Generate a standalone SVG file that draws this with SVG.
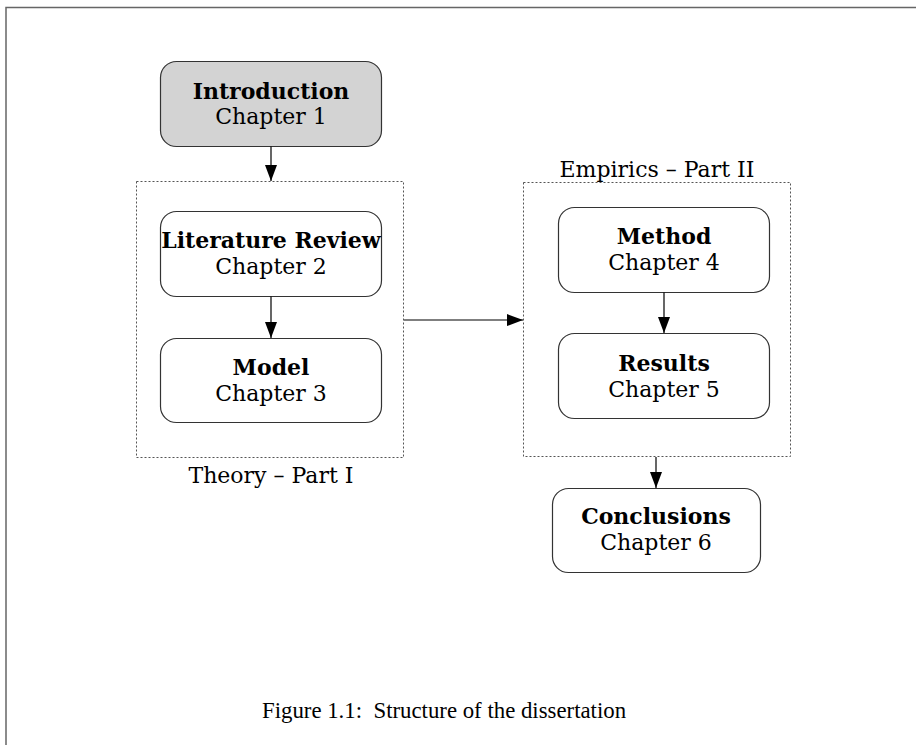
<svg xmlns="http://www.w3.org/2000/svg" width="916" height="745" viewBox="0 0 916 745">
<style>
.node{fill:#fff;stroke:#333;stroke-width:1.2}
.gray{fill:#d3d3d3}
.grp{fill:none;stroke:#555;stroke-width:1;stroke-dasharray:2,2}
.b{font-family:"DejaVu Serif",serif;font-weight:bold;font-size:22px;fill:#000;text-anchor:middle}
.r{font-family:"DejaVu Serif",serif;font-size:22px;fill:#000;text-anchor:middle}
.lbl{font-family:"DejaVu Serif",serif;font-size:22px;fill:#000;text-anchor:middle}
.edge{stroke:#000;stroke-width:1.2;fill:none;marker-end:url(#ah)}
</style>
<defs>
<marker id="ah" markerWidth="16" markerHeight="12" refX="16" refY="6" orient="auto" markerUnits="userSpaceOnUse" viewBox="0 0 16 12">
<path d="M0,0 L16,6 L0,12 Z" fill="#000"/>
</marker>
</defs>
<rect x="0" y="0" width="916" height="745" fill="#fff"/>
<path d="M6,760 V7.5 H930" fill="none" stroke="#666" stroke-width="1.5"/>
<g id="theory">
<rect class="grp" x="136.5" y="181.5" width="267" height="276"/>
<text class="lbl" x="271" y="483">Theory – Part I</text>
</g>
<g id="empirics">
<rect class="grp" x="523.5" y="182.5" width="267" height="274"/>
<text class="lbl" x="657" y="177">Empirics – Part II</text>
</g>
<g id="intro">
<rect class="node gray" x="160.5" y="61.5" width="221" height="85" rx="16"/>
<text class="b" x="271" y="99">Introduction</text>
<text class="r" x="271" y="124">Chapter 1</text>
</g>
<g id="lit">
<rect class="node" x="160.5" y="211.5" width="221" height="85" rx="16"/>
<text class="b" x="271" y="248">Literature Review</text>
<text class="r" x="271" y="274">Chapter 2</text>
</g>
<g id="model">
<rect class="node" x="160.5" y="338.5" width="221" height="84" rx="16"/>
<text class="b" x="271" y="375">Model</text>
<text class="r" x="271" y="401">Chapter 3</text>
</g>
<g id="method">
<rect class="node" x="558.5" y="207.5" width="211" height="85" rx="16"/>
<text class="b" x="664" y="244">Method</text>
<text class="r" x="664" y="270">Chapter 4</text>
</g>
<g id="results">
<rect class="node" x="558.5" y="333.5" width="211" height="85" rx="16"/>
<text class="b" x="664" y="371">Results</text>
<text class="r" x="664" y="397">Chapter 5</text>
</g>
<g id="conclusions">
<rect class="node" x="552.5" y="488.5" width="208" height="84" rx="16"/>
<text class="b" x="656" y="524">Conclusions</text>
<text class="r" x="656" y="550">Chapter 6</text>
</g>
<g id="connectors">
<line class="edge" x1="271" y1="146.5" x2="271" y2="181"/>
<line class="edge" x1="271" y1="296.5" x2="271" y2="338"/>
<line class="edge" x1="404" y1="320" x2="523" y2="320"/>
<line class="edge" x1="664" y1="292.5" x2="664" y2="333"/>
<line class="edge" x1="656" y1="457" x2="656" y2="488"/>
</g>
<text x="262" y="718" font-family="Liberation Serif,serif" font-size="22.8" fill="#000">Figure 1.1:&#160; Structure of the dissertation</text>
</svg>
